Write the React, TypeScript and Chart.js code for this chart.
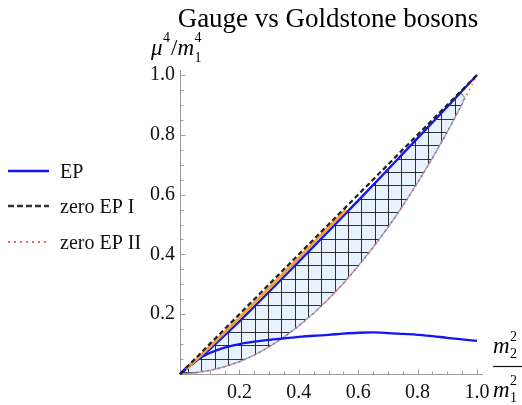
import React, { useEffect, useRef } from 'react';
import { Chart, registerables } from 'chart.js';

Chart.register(...registerables);

// ---- data ----
const titleText = 'Gauge vs Goldstone bosons';
const legendLabels = ['EP', 'zero EP I', 'zero EP II'];
const tickStep = 0.2;
const minorStep = 0.05;

const zeroEP1X = [0, 1];
const zeroEP1Y = [0, 1];

const epUpperX = [0, 0.05, 0.1, 0.2, 0.3, 0.4, 0.5, 0.6, 0.7, 0.8, 0.9, 1.0];
const epUpperY = [0, 0.04, 0.082, 0.176, 0.275, 0.376, 0.478, 0.58, 0.684, 0.789, 0.894, 1.0];

const epLowerX = [0, 0.02, 0.05, 0.1, 0.15, 0.2, 0.25, 0.3, 0.35, 0.4, 0.45, 0.5, 0.55, 0.6, 0.65, 0.7, 0.75, 0.8, 0.85, 0.9, 0.95, 1.0];
const epLowerY = [0, 0.02, 0.043, 0.07, 0.088, 0.1, 0.108, 0.114, 0.119, 0.124, 0.128, 0.131, 0.135, 0.138, 0.139, 0.137, 0.134, 0.131, 0.127, 0.121, 0.116, 0.111];

const orangeX = [0.02, 0.1, 0.2, 0.3, 0.4, 0.5, 0.56];
const orangeY = [0.016, 0.091, 0.188, 0.287, 0.388, 0.489, 0.55];

const zeroEP2X = [0, 0.05, 0.1, 0.15, 0.2, 0.25, 0.3, 0.35, 0.4, 0.45, 0.5, 0.55, 0.6, 0.65, 0.7, 0.75, 0.8, 0.85, 0.9, 0.95, 1.0];
const zeroEP2Y = [0, 0.004, 0.012, 0.024, 0.041, 0.063, 0.091, 0.123, 0.161, 0.203, 0.251, 0.303, 0.361, 0.423, 0.49, 0.562, 0.64, 0.722, 0.81, 0.903, 1.0];

const hatchUpperX = [0, 0.05, 0.1, 0.2, 0.3, 0.4, 0.5, 0.6, 0.7, 0.8, 0.9, 0.945];
const hatchUpperY = [0, 0.04, 0.082, 0.176, 0.275, 0.376, 0.478, 0.58, 0.684, 0.789, 0.894, 0.941];
const hatchLowerX = [0, 0.05, 0.1, 0.15, 0.2, 0.25, 0.3, 0.35, 0.4, 0.45, 0.5, 0.55, 0.6, 0.65, 0.7, 0.75, 0.8, 0.85, 0.9, 0.95, 0.958];
const hatchLowerY = [0, 0.004, 0.012, 0.024, 0.041, 0.063, 0.091, 0.123, 0.161, 0.203, 0.251, 0.303, 0.361, 0.423, 0.49, 0.562, 0.64, 0.722, 0.81, 0.903, 0.925];

const pts = (xs: number[], ys: number[]) => xs.map((x, i) => ({ x, y: ys[i] }));

const SERIF = '"Liberation Serif", "Times New Roman", serif';
const BLUE = '#1414f5';
const BLACK_DASH = '#222222';
const RED_DOT = 'rgba(235,70,70,0.85)';

export default function App() {
  const ref = useRef<HTMLCanvasElement>(null);

  useEffect(() => {
    const canvas = ref.current!;
    const ctx = canvas.getContext('2d')!;

    // hatch pattern (light blue fill with square grid)
    const tile = document.createElement('canvas');
    tile.width = 40;
    tile.height = 40;
    const t = tile.getContext('2d')!;
    t.fillStyle = '#e8f2fd';
    t.fillRect(0, 0, 40, 40);
    t.fillStyle = 'rgba(15,15,15,0.85)';
    [1, 15, 28].forEach((x) => t.fillRect(x, 0, 1, 40));
    [12, 25, 39].forEach((y) => t.fillRect(0, y, 40, 1));
    const pattern = ctx.createPattern(tile, 'repeat')!;

    const hatchPolygon = [
      ...pts(hatchUpperX, hatchUpperY),
      ...pts(hatchLowerX, hatchLowerY).reverse(),
    ];

    const decor = {
      id: 'decor',
      beforeDatasetsDraw(chart: any) {
        const c = chart.ctx;
        const xs = chart.scales.x;
        const ys = chart.scales.y;
        const x0 = Math.round(xs.getPixelForValue(0)) + 0.5;
        const y0 = Math.round(ys.getPixelForValue(0)) + 0.5;
        c.save();
        c.strokeStyle = '#9b9b9b';
        c.lineWidth = 1;
        c.beginPath();
        c.moveTo(x0, y0);
        c.lineTo(xs.getPixelForValue(1) + 6, y0);
        c.moveTo(x0, y0);
        c.lineTo(x0, ys.getPixelForValue(1) - 5);
        const n = Math.round(1 / minorStep);
        for (let i = 1; i <= n; i++) {
          const v = i * minorStep;
          const major = i % Math.round(tickStep / minorStep) === 0;
          const len = major ? 5 : 3;
          const px = Math.round(xs.getPixelForValue(v)) + 0.5;
          c.moveTo(px, y0);
          c.lineTo(px, y0 - len);
          const py = Math.round(ys.getPixelForValue(v)) + 0.5;
          c.moveTo(x0, py);
          c.lineTo(x0 + len, py);
        }
        c.stroke();
        c.restore();
      },
      afterDraw(chart: any) {
        const c = chart.ctx;
        c.save();
        c.fillStyle = '#000';
        c.textBaseline = 'alphabetic';
        // title
        c.font = `27px ${SERIF}`;
        c.textAlign = 'center';
        c.fillText(titleText, 328, 27);
        c.textAlign = 'left';

        // y-axis label  μ^4 / m_1^4
        let x = 151;
        c.font = `italic 23px ${SERIF}`;
        c.fillText('μ', x, 55);
        x += c.measureText('μ').width + 0.5;
        c.font = `14px ${SERIF}`;
        c.fillText('4', x, 42);
        x += c.measureText('4').width + 1;
        c.font = `23px ${SERIF}`;
        c.fillText('/', x, 55);
        x += c.measureText('/').width;
        c.font = `italic 23px ${SERIF}`;
        c.fillText('m', x, 55);
        x += c.measureText('m').width + 0.5;
        c.font = `14px ${SERIF}`;
        c.fillText('4', x, 42);
        c.fillText('1', x, 62);

        // x-axis label  m_2^2 / m_1^2
        const drawM = (bx: number, by: number, sub: string, sup: string) => {
          c.font = `italic 23px ${SERIF}`;
          c.fillText('m', bx, by);
          const w = c.measureText('m').width + 0.5;
          c.font = `14px ${SERIF}`;
          c.fillText(sup, bx + w, by - 12);
          c.fillText(sub, bx + w, by + 5);
        };
        drawM(493, 353, '2', '2');
        drawM(493, 397, '1', '2');
        c.strokeStyle = '#111';
        c.lineWidth = 1.2;
        c.beginPath();
        c.moveTo(493, 366.5);
        c.lineTo(522, 366.5);
        c.stroke();

        // legend
        const rows = [171, 206, 242];
        c.lineWidth = 2.4;
        c.strokeStyle = BLUE;
        c.setLineDash([]);
        c.beginPath();
        c.moveTo(8, rows[0]);
        c.lineTo(49, rows[0]);
        c.stroke();
        c.strokeStyle = '#333';
        c.setLineDash([6, 3]);
        c.beginPath();
        c.moveTo(8, rows[1]);
        c.lineTo(49, rows[1]);
        c.stroke();
        c.strokeStyle = RED_DOT;
        c.lineWidth = 2;
        c.setLineDash([2, 4]);
        c.beginPath();
        c.moveTo(8, rows[2]);
        c.lineTo(49, rows[2]);
        c.stroke();
        c.setLineDash([]);
        c.font = `20px ${SERIF}`;
        c.fillStyle = '#111';
        legendLabels.forEach((lab, i) => c.fillText(lab, 60, rows[i] + 6.5));
        c.restore();
      },
    };

    const tickFont = { family: SERIF, size: 20 };
    const tickCb = (v: any) => (Number(v) === 0 ? '' : Number(v).toFixed(1));

    const chart = new Chart(canvas, {
      type: 'line',
      data: {
        datasets: [
          {
            label: 'zero EP I',
            data: pts(zeroEP1X, zeroEP1Y),
            borderColor: BLACK_DASH,
            borderWidth: 2.2,
            borderDash: [5, 3],
            pointRadius: 0,
            fill: false,
            clip: false as any,
          },
          {
            label: 'orange',
            data: pts(orangeX, orangeY),
            borderColor: '#f2a23a',
            borderWidth: 3,
            pointRadius: 0,
            fill: false,
          },
          {
            label: 'EP',
            data: pts(epUpperX, epUpperY),
            borderColor: BLUE,
            borderWidth: 2.3,
            pointRadius: 0,
            fill: false,
            clip: false as any,
          },
          {
            label: 'EP lower',
            data: pts(epLowerX, epLowerY),
            borderColor: BLUE,
            borderWidth: 2.3,
            pointRadius: 0,
            cubicInterpolationMode: 'monotone',
            fill: false,
            clip: false as any,
          },
          {
            label: 'zero EP II',
            data: pts(zeroEP2X, zeroEP2Y),
            borderColor: RED_DOT,
            borderWidth: 1.6,
            borderDash: [1.5, 4],
            pointRadius: 0,
            cubicInterpolationMode: 'monotone',
            fill: false,
            clip: false as any,
          },
          {
            label: 'region',
            data: hatchPolygon,
            borderColor: 'rgba(120,140,185,0.75)',
            borderWidth: 1.5,
            backgroundColor: pattern as any,
            pointRadius: 0,
            fill: 'shape' as any,
          },
        ],
      },
      options: {
        animation: false,
        responsive: false,
        devicePixelRatio: 1,
        events: [],
        layout: { padding: { left: 135, right: 45, top: 75, bottom: 0 } },
        plugins: {
          legend: { display: false },
          tooltip: { enabled: false },
          title: { display: false },
        },
        scales: {
          x: {
            type: 'linear',
            min: 0,
            max: 1,
            grid: { display: false, drawTicks: false },
            border: { display: false },
            ticks: {
              stepSize: tickStep,
              font: tickFont,
              color: '#111',
              padding: 7,
              maxRotation: 0,
              autoSkip: false,
              callback: tickCb,
            },
            afterFit: (s: any) => {
              s.height = 31;
            },
          },
          y: {
            type: 'linear',
            min: 0,
            max: 1,
            grid: { display: false, drawTicks: false },
            border: { display: false },
            ticks: {
              stepSize: tickStep,
              font: tickFont,
              color: '#111',
              padding: 5,
              autoSkip: false,
              callback: tickCb,
            },
            afterFit: (s: any) => {
              s.width = 45;
            },
          },
        },
      },
      plugins: [decor],
    });

    return () => chart.destroy();
  }, []);

  return (
    <div style={{ position: 'fixed', left: 0, top: 0, width: 522, height: 405, background: '#fff' }}>
      <canvas ref={ref} width={522} height={405} style={{ display: 'block', width: 522, height: 405 }} />
    </div>
  );
}
